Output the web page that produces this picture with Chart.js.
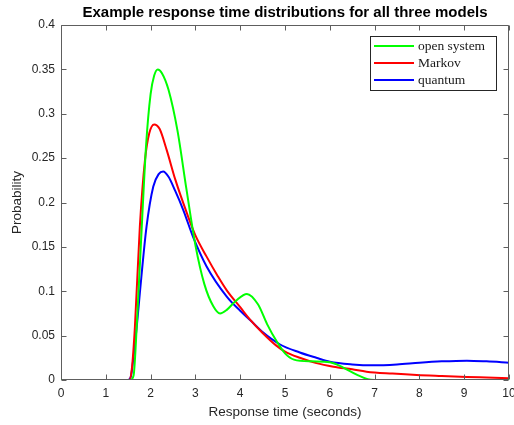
<!DOCTYPE html>
<html><head><meta charset="utf-8">
<script src="https://cdn.jsdelivr.net/npm/chart.js@4.4.1/dist/chart.umd.min.js"></script>
<style>html,body{margin:0;padding:0;background:#fff;overflow:hidden}canvas{display:block}</style>
</head><body>
<canvas id="c" width="514" height="425" style="width:514px;height:425px"></canvas>
<script>
const titleText = "Example response time distributions for all three models";
const xLabel = "Response time (seconds)";
const yLabel = "Probability";
const seriesNames = ["open system", "Markov", "quantum"];
const seriesColors = ["#00ff00", "#ff0000", "#0000ff"];

const openT = [0, 1.55, 1.62, 1.7, 1.8, 1.9, 2.0, 2.08, 2.16, 2.25, 2.4, 2.6, 2.8, 3.0, 3.2, 3.4, 3.55, 3.7, 3.9, 4.15, 4.4, 4.6, 4.82, 5.0, 5.2, 5.6, 6.0, 6.3, 6.6, 6.85, 7.2, 10];
const openP = [0, 0, 0.005, 0.07, 0.17, 0.265, 0.322, 0.343, 0.350, 0.346, 0.327, 0.281, 0.215, 0.152, 0.108, 0.083, 0.075, 0.079, 0.089, 0.097, 0.085, 0.063, 0.043, 0.030, 0.023, 0.021, 0.020, 0.014, 0.006, 0.001, 0, 0];

const markovT = [0, 1.52, 1.58, 1.65, 1.76, 1.875, 1.97, 2.08, 2.2, 2.36, 2.55, 2.81, 3.0, 3.25, 3.5, 3.7, 4.0, 4.22, 4.5, 4.8, 5.0, 5.33, 5.7, 6.08, 6.5, 6.82, 7.4, 7.94, 8.5, 9.06, 9.5, 10];
const markovP = [0, 0, 0.012, 0.06, 0.173, 0.248, 0.278, 0.288, 0.283, 0.259, 0.226, 0.188, 0.163, 0.139, 0.117, 0.101, 0.082, 0.068, 0.053, 0.039, 0.032, 0.025, 0.019, 0.015, 0.012, 0.0094, 0.0072, 0.0056, 0.0045, 0.0035, 0.0028, 0.002];

const quantumT = [0, 1.5, 1.56, 1.61, 1.7, 1.76, 1.91, 2.06, 2.18, 2.28, 2.4, 2.55, 2.73, 2.95, 3.25, 3.7, 4.0, 4.22, 4.5, 4.89, 5.33, 5.7, 6.0, 6.5, 6.97, 7.5, 8.0, 8.5, 9.06, 9.5, 10];
const quantumP = [0, 0, 0.004, 0.022, 0.065, 0.098, 0.173, 0.218, 0.232, 0.235, 0.229, 0.213, 0.1915, 0.161, 0.128, 0.094, 0.078, 0.0676, 0.054, 0.040, 0.031, 0.025, 0.0205, 0.0175, 0.0165, 0.0175, 0.0195, 0.021, 0.0218, 0.021, 0.0195];

const xTicks = [0, 1, 2, 3, 4, 5, 6, 7, 8, 9, 10];
const yTicks = [0, 0.05, 0.1, 0.15, 0.2, 0.25, 0.3, 0.35, 0.4];

const toPts = (T, P) => T.map((t, i) => ({x: t, y: P[i]}));
const seriesT = [openT, markovT, quantumT];
const seriesP = [openP, markovP, quantumP];

const axisColor = "#5e5e5e";
const textColor = "#262626";
const sansFamily = '"Liberation Sans", Arial, sans-serif';

const decor = {
  id: "decor",
  afterDraw(chart) {
    const ctx = chart.ctx;
    const {left, right, top, bottom} = chart.chartArea;
    const xs = chart.scales.x, ys = chart.scales.y;
    ctx.save();
    ctx.strokeStyle = axisColor;
    ctx.lineWidth = 1;
    const L = Math.round(left) + 0.5, R = Math.round(right) - 0.5;
    const T = Math.round(top) + 0.5, B = Math.round(bottom) - 0.5;
    ctx.beginPath();
    ctx.rect(L, T, R - L, B - T);
    ctx.stroke();
    const tl = 5;
    ctx.beginPath();
    xTicks.forEach(v => {
      const p = Math.round(xs.getPixelForValue(v)) + 0.5;
      ctx.moveTo(p, B); ctx.lineTo(p, B - tl);
      ctx.moveTo(p, T); ctx.lineTo(p, T + tl);
    });
    yTicks.forEach(v => {
      const p = Math.round(ys.getPixelForValue(v)) + 0.5;
      ctx.moveTo(L, p); ctx.lineTo(L + tl, p);
      ctx.moveTo(R, p); ctx.lineTo(R - tl, p);
    });
    ctx.stroke();
    // title
    ctx.fillStyle = "#000";
    ctx.font = 'bold 15px ' + sansFamily;
    ctx.textAlign = "center";
    ctx.textBaseline = "middle";
    ctx.fillText(titleText, (left + right) / 2, 13);
    // axis labels
    ctx.fillStyle = textColor;
    ctx.font = '13.5px ' + sansFamily;
    ctx.fillText(xLabel, (left + right) / 2, 412);
    ctx.save();
    ctx.translate(17, (top + bottom) / 2);
    ctx.rotate(-Math.PI / 2);
    ctx.fillText(yLabel, 0, 0);
    ctx.restore();
    // legend
    const lx = 370.5, ly = 36.5, lw = 126, lh = 54;
    ctx.fillStyle = "#fff";
    ctx.fillRect(lx, ly, lw, lh);
    ctx.strokeStyle = "#262626";
    ctx.lineWidth = 1;
    ctx.strokeRect(lx, ly, lw, lh);
    ctx.font = '13.5px "Liberation Serif", "Times New Roman", serif';
    ctx.textAlign = "left";
    ctx.textBaseline = "middle";
    const rowY = [46, 63, 80];
    chart.data.datasets.forEach((ds, i) => {
      ctx.strokeStyle = ds.borderColor;
      ctx.lineWidth = 2;
      ctx.beginPath();
      ctx.moveTo(374, rowY[i]); ctx.lineTo(414, rowY[i]);
      ctx.stroke();
      ctx.fillStyle = "#1a1a1a";
      ctx.fillText(ds.label, 418, rowY[i]);
    });
    ctx.restore();
  }
};

new Chart(document.getElementById("c"), {
  type: "line",
  data: {
    datasets: seriesNames.map((name, i) => ({
      label: name,
      data: toPts(seriesT[i], seriesP[i]),
      borderColor: seriesColors[i],
      backgroundColor: seriesColors[i],
      borderWidth: 2,
      pointRadius: 0,
      fill: false,
      cubicInterpolationMode: "monotone"
    }))
  },
  options: {
    responsive: false,
    animation: false,
    devicePixelRatio: 1,
    layout: {padding: {left: 0, top: 25, right: 5, bottom: 0}},
    plugins: {legend: {display: false}, title: {display: false}, tooltip: {enabled: false}},
    scales: {
      x: {
        type: "linear", min: 0, max: 10,
        grid: {display: false, drawTicks: false, tickLength: 0},
        border: {display: false},
        afterBuildTicks: s => { s.ticks = xTicks.map(v => ({value: v})); },
        afterFit: s => { s.height = 45; s.paddingLeft = 0; s.paddingRight = 0; },
        ticks: {color: textColor, font: {family: sansFamily, size: 12}, padding: 6, maxRotation: 0, autoSkip: false,
          callback: v => String(v)}
      },
      y: {
        type: "linear", min: 0, max: 0.4,
        grid: {display: false, drawTicks: false, tickLength: 0},
        border: {display: false},
        afterBuildTicks: s => { s.ticks = yTicks.map(v => ({value: v})); },
        afterFit: s => { s.width = 61; s.paddingTop = 0; s.paddingBottom = 0; },
        ticks: {color: textColor, font: {family: sansFamily, size: 12}, padding: 6,
          callback: v => String(Math.round(v * 100) / 100)}
      }
    }
  },
  plugins: [decor]
});
</script>
</body></html>
